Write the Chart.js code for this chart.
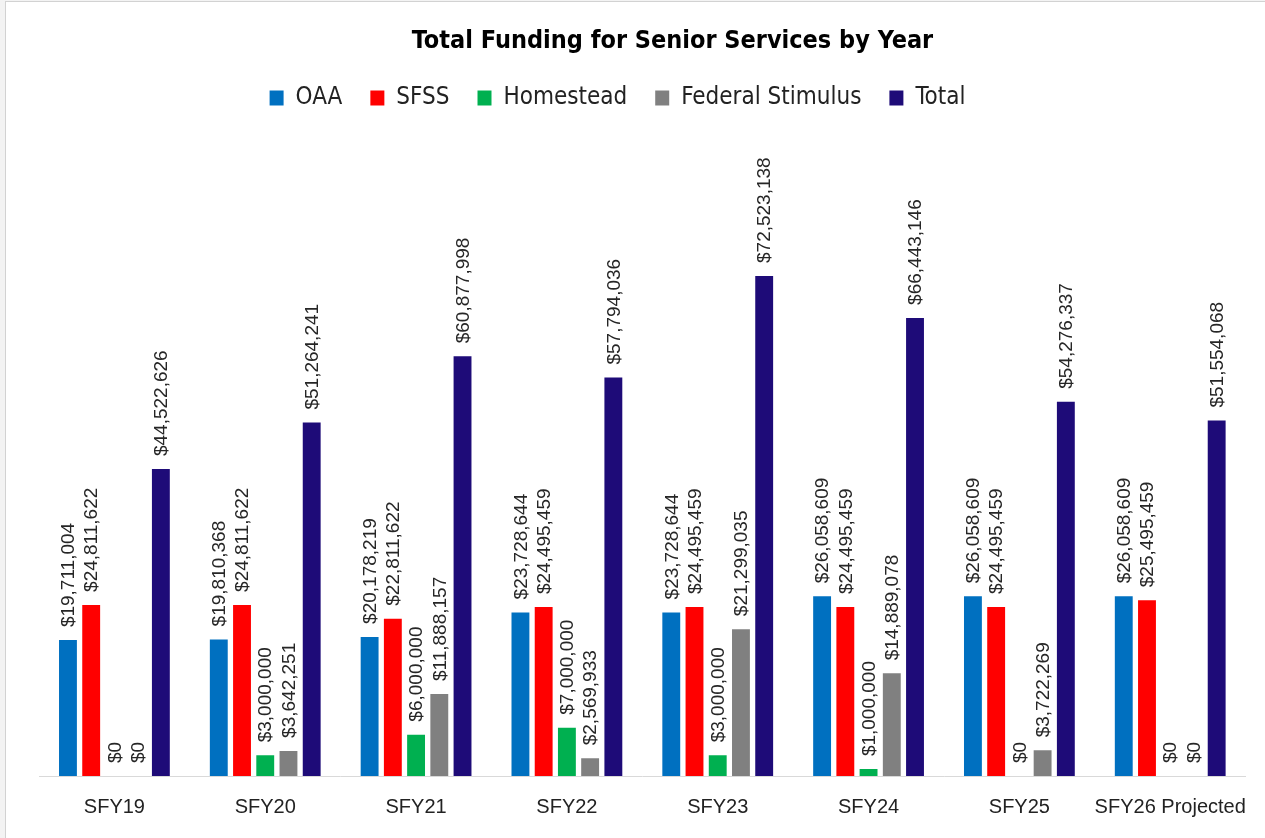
<!DOCTYPE html>
<html>
<head>
<meta charset="utf-8">
<title>Total Funding for Senior Services by Year</title>
<script src="https://cdn.jsdelivr.net/npm/chart.js@4.4.1/dist/chart.umd.min.js"></script>
<style>
  html, body { margin: 0; padding: 0; background: #f3f3f3; }
  #wrap {
    position: absolute; left: 5px; top: 1px; width: 1260px; height: 837px;
    box-sizing: border-box; background: #fff;
    border-left: 1px solid #d2d2d2; border-top: 1px solid #d2d2d2;
  }
</style>
</head>
<body>
<div id="wrap"><canvas id="fundingChart"></canvas></div>
<script>
// Total Funding for Senior Services
const years = ['SFY19', 'SFY20', 'SFY21', 'SFY22', 'SFY23', 'SFY24', 'SFY25', 'SFY26 Projected'];
const oaa = [19711004, 19810368, 20178219, 23728644, 23728644, 26058609, 26058609, 26058609];
const sfss = [24811622, 24811622, 22811622, 24495459, 24495459, 24495459, 24495459, 25495459];
const homestead = [0, 3000000, 6000000, 7000000, 3000000, 1000000, 0, 0];
const federalStimulus = [0, 3642251, 11888157, 2569933, 21299035, 14889078, 3722269, 0];
const total = [44522626, 51264241, 60877998, 57794036, 72523138, 66443146, 54276337, 51554068];

const narrow = '"DejaVu Sans Condensed", "Liberation Sans", sans-serif';
const regular = '"Liberation Sans", Arial, sans-serif';

// draws the rotated dollar labels above each bar
const barLabels = {
    id: 'barLabels',
    afterLayout(chart) {
        // title sits a bit right of centre, legend a bit left, like the original
        chart.titleBlock.left += 22;
        chart.titleBlock.right += 22;
        chart.legend.left -= 33;
        chart.legend.right -= 33;
    },
    afterDatasetsDraw(chart) {
        const c = chart.ctx;
        c.save();
        c.font = '19px ' + regular;
        c.fillStyle = '#262626';
        c.textAlign = 'left';
        c.textBaseline = 'middle';
        chart.data.datasets.forEach((ds, i) => {
            chart.getDatasetMeta(i).data.forEach((bar, j) => {
                c.save();
                c.translate(bar.x + 1, bar.y - 13);
                c.rotate(-Math.PI / 2);
                c.fillText('$' + ds.data[j].toLocaleString('en-US'), 0, 0);
                c.restore();
            });
        });
        c.restore();
    }
};

const ctx = document.getElementById('fundingChart').getContext('2d');
const fundingChart = new Chart(ctx, {
    type: 'bar',
    data: {
        labels: years,
        datasets: [
            { label: 'OAA', data: oaa, backgroundColor: '#0070C0' },
            { label: 'SFSS', data: sfss, backgroundColor: '#FF0000' },
            { label: 'Homestead', data: homestead, backgroundColor: '#00B050' },
            { label: 'Federal Stimulus', data: federalStimulus, backgroundColor: '#808080' },
            { label: 'Total', data: total, backgroundColor: '#1E0B78' }
        ]
    },
    options: {
        responsive: true,
        maintainAspectRatio: false,
        animation: false,
        categoryPercentage: 0.77,
        barPercentage: 0.77,
        layout: { padding: { left: 33, right: 3, top: 0, bottom: 0 } },
        plugins: {
            title: {
                display: true,
                text: 'Total Funding for Senior Services by Year',
                color: '#000',
                font: { family: narrow, size: 25, weight: 'bold' },
                padding: { top: 24, bottom: 2 }
            },
            legend: {
                position: 'top',
                labels: {
                    color: '#222',
                    font: { family: narrow, size: 24 },
                    boxWidth: 14,
                    boxHeight: 15,
                    padding: 28
                }
            },
            tooltip: { enabled: false }
        },
        scales: {
            x: {
                grid: { display: false, drawTicks: false },
                border: { display: true, color: '#D9D9D9', width: 1 },
                ticks: {
                    color: '#222',
                    font: { family: regular, size: 20 },
                    padding: 19,
                    maxRotation: 0,
                    autoSkip: false
                }
            },
            y: {
                display: false,
                min: 0,
                max: 95150000
            }
        }
    },
    plugins: [barLabels]
});
</script>
</body>
</html>
